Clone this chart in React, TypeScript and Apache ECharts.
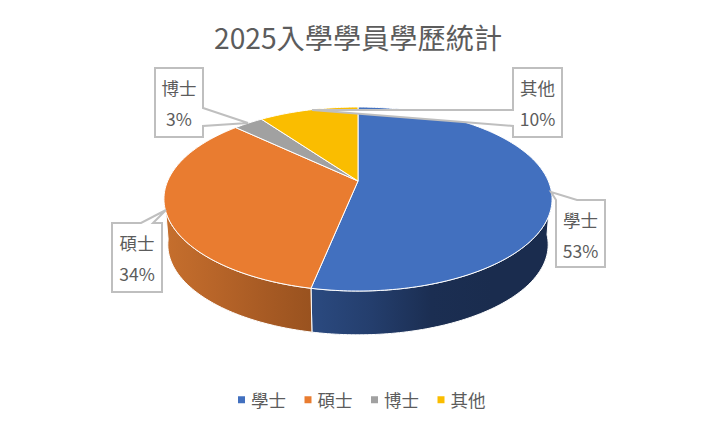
import React, { useEffect, useRef } from "react";
import * as echarts from "echarts";

const titleText = "2025入學學員學歷統計";
const categories = ["學士", "碩士", "博士", "其他"];
const values = [53.2, 33.8, 3, 10];
const colors = ["#4270BF", "#E97C30", "#A1A1A1", "#FABD00"];
const FONT = '"Noto Sans CJK TC", "Noto Sans", sans-serif';
const TEXT = "#5C5C5C";

// perspective pie layout
const CX = 358, CY = 181, A = 190.3, B = 88.5, P = 0.1956, DROP = 46, SHRINK = 0.98;
const project = (deg: number, bottom = false): [number, number] => {
  const t = (deg * Math.PI) / 180;
  const u = Math.sin(t), v = -Math.cos(t), w = 1 - P * v;
  const x = (A * u) / w, y = (B * v) / w;
  return bottom ? [CX + x * SHRINK, CY + DROP + y * SHRINK] : [CX + x, CY + y];
};
const arc = (a: number, b: number, bottom = false) => {
  const pts: [number, number][] = [];
  const n = Math.max(2, Math.ceil(Math.abs(b - a)));
  for (let i = 0; i <= n; i++) pts.push(project(a + ((b - a) * i) / n, bottom));
  return pts;
};
const grad = (stops: string[]) => ({
  type: "linear", x: 0, y: 0, x2: 1, y2: 0,
  colorStops: stops.map((color, i) => ({ offset: i / (stops.length - 1), color })),
});
// visible part of the wall: limits in degrees, and shading from left to right
const wallRange = [95, 262];
const wallFills: (string[] | null)[] = [
  ["#2B4A80", "#243E6D", "#1B2E52", "#1A2C4E", "#1A2C4E"],
  ["#C66F2D", "#B86529", "#A85B24", "#99521F"],
  null,
  null,
];
// callout outlines and the centre of their text
const callouts: { pts: number[][]; tx: number; ty: number }[] = [
  { pts: [[556, 200], [551, 192], [577, 200], [605, 200], [605, 267], [556, 267]], tx: 580.5, ty: 235 },
  { pts: [[112, 223], [141, 223], [166, 210], [153, 223], [162, 223], [162, 292], [112, 292]], tx: 137, ty: 258 },
  { pts: [[155, 68], [203, 68], [203, 108], [248, 123], [203, 126], [203, 137], [155, 137]], tx: 179, ty: 103 },
  { pts: [[513, 68], [562, 68], [562, 137], [513, 137], [513, 126], [312, 110], [513, 110]], tx: 537.5, ty: 103 },
];

const total = values.reduce((s, v) => s + v, 0);
const starts = values.map((_, i) => values.slice(0, i).reduce((s, v) => s + v, 0));

const makeRender = (idx: number) => (_p: any, api: any) => {
  const value = api.value(0) as number;
  const start = api.value(1) as number;
  const a0 = (start / total) * 360;
  const a1 = ((start + value) / total) * 360;
  const children: any[] = [];
  const lo = Math.max(a0, wallRange[0]);
  const hi = Math.min(a1, wallRange[1]);
  const fill = wallFills[idx];
  if (fill && hi > lo) {
    children.push({
      type: "polygon",
      shape: { points: [...arc(lo, hi), ...arc(hi, lo, true)] },
      style: { fill: grad(fill), stroke: "#fff", lineWidth: 1 },
    });
  }
  children.push({
    type: "polygon",
    shape: { points: [[CX, CY], ...arc(a0, a1)] },
    style: { fill: colors[idx], stroke: "#fff", lineWidth: 1 },
  });
  const c = callouts[idx];
  children.push({
    type: "polygon",
    shape: { points: c.pts },
    style: { fill: "#fff", stroke: "#BFBFBF", lineWidth: 2 },
  });
  children.push({
    type: "text",
    style: {
      text: `${categories[idx]}\n${Math.round((value / total) * 100)}%`,
      x: c.tx, y: c.ty, align: "center", verticalAlign: "middle",
      fontSize: 17.5, lineHeight: 31, fontFamily: FONT, fill: TEXT,
    },
  });
  return { type: "group", children };
};

export default function App() {
  const ref = useRef<HTMLDivElement>(null);
  useEffect(() => {
    const chart = echarts.init(ref.current!, null, { renderer: "svg" });
    chart.setOption({
      animation: false,
      backgroundColor: "#fff",
      title: {
        text: titleText, left: 209, top: 17,
        textStyle: { fontSize: 28.2, fontWeight: "normal", color: TEXT, fontFamily: FONT },
      },
      legend: {
        data: categories, left: 233, top: 386, icon: "rect", itemWidth: 7, itemHeight: 7, itemGap: 18.5,
        textStyle: { fontSize: 17.5, color: TEXT, fontFamily: FONT, padding: [0, 0, 0, 1] },
      },
      series: categories.map((name, i) => ({
        type: "custom", name, coordinateSystem: "none",
        itemStyle: { color: colors[i] },
        data: [[values[i], starts[i]]],
        renderItem: makeRender(i),
        silent: true,
      })),
    });
    return () => chart.dispose();
  }, []);
  return <div ref={ref} style={{ position: "absolute", left: 0, top: 0, width: 719, height: 428 }} />;
}
